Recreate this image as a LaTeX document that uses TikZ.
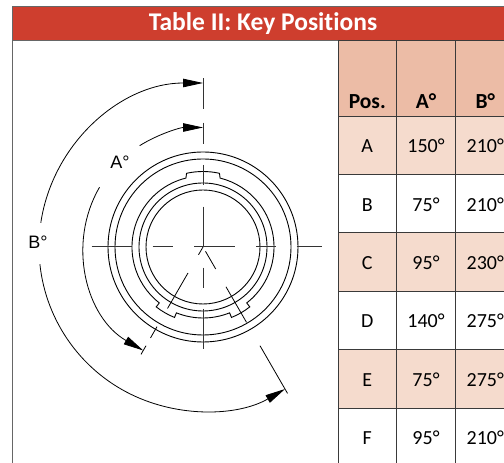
\documentclass[tikz,border=0pt]{standalone}
\usepackage{fontspec}
\setmainfont[Ligatures=NoCommon]{Carlito}
\newfontfamily\drawfont{Liberation Sans}
\usetikzlibrary{positioning,arrows.meta}
\definecolor{bannerred}{HTML}{CE3E2E}
\definecolor{headtan}{HTML}{ECBCA6}
\definecolor{rowpink}{HTML}{F5DBCD}
\definecolor{framegray}{HTML}{666666}
\definecolor{gridgray}{HTML}{3A3A3A}
\begin{document}
\begin{tikzpicture}[
  x = 1bp,
  y = 1bp,
  ringline/.style = {
    line width = 0.9bp,
    color = black
  },
  axisline/.style = {
    line width = 1bp,
    color = black!80
  },
  dimarrow/.style = {
    line width = 0.8bp,
    -{Triangle[length = 20bp, width = 8.5bp]}
  },
  dimline/.style = {
    line width = 0.8bp
  },
  dimlabel/.style = {
    font = \drawfont\fontsize{18bp}{20bp}\selectfont,
    inner sep = 0pt
  },
  headcell/.style = {
    draw = gridgray,
    line width = 0.9bp,
    fill = headtan,
    minimum height = 76bp,
    inner sep = 0pt
  },
  headlabel/.style = {
    font = \fontsize{21.5bp}{23bp}\selectfont\bfseries,
    inner sep = 0pt
  },
  rowcell/.style = {
    draw = gridgray,
    line width = 0.9bp,
    minimum height = 58.5bp,
    inner sep = 0pt,
    text height = 15bp,
    text depth = 0pt,
    font = \fontsize{20bp}{22bp}\selectfont
  }
]
  \clip[use as bounding box] (0, 0) rectangle (504, 463);
  \fill[white] (0, 0) rectangle (504, 463);

  % banner and frame
  \node[draw = framegray, line width = 1.2bp, fill = white, anchor = south west,
    minimum width = 600bp, minimum height = 460bp, inner sep = 0pt] (frame) at (11.7, -37) {};
  \node[draw = framegray, line width = 1.2bp, fill = bannerred, anchor = north west,
    minimum width = 600bp, minimum height = 34bp, inner sep = 0pt] (banner) at (11.7, 457) {};
  \node[font = \fontsize{25.5bp}{27bp}\selectfont\bfseries, text = white, inner sep = 0pt] (title) at (263, 439.5) {Table II: Key Positions};

  % table
  \node[headcell, minimum width = 58.5bp] (headPos) at (367.25, 385) {};
  \node[headcell, minimum width = 59bp] (headA) at (426, 385) {};
  \node[headcell, minimum width = 59.5bp] (headB) at (485.25, 385) {};
  \node[headlabel, above = 8bp of headPos.south] {Pos.};
  \node[headlabel, above = 8bp of headA.south] {A°};
  \node[headlabel, above = 8bp of headB.south] {B°};

  \foreach \rowname/\angleA/\angleB/\rowfill [count = \i from 0] in {
    A/150/210/rowpink,
    B/75/210/white,
    C/95/230/rowpink,
    D/140/275/white,
    E/75/275/rowpink,
    F/95/210/white%
  } {
    \node[rowcell, fill = \rowfill, minimum width = 58.5bp] (pos\i) at (367.25, {317.75 - 58.4*\i}) {\rowname};
    \node[rowcell, fill = \rowfill, minimum width = 59bp] (a\i) at (426, {317.75 - 58.4*\i}) {\angleA°};
    \node[rowcell, fill = \rowfill, minimum width = 59.5bp] (b\i) at (485.25, {317.75 - 58.4*\i}) {\angleB°};
  }

  % rings
  \begin{scope}[shift = {(203, 216)}]
    \draw[ringline] (0, 0) circle[radius = 95];
    \draw[ringline] (0, 0) circle[radius = 88];
    \draw[ringline] (0, 0) circle[radius = 64];
    \draw[ringline] (0, 0) circle[radius = 57];
    \draw[ringline] (76.1:71) -- (77.4:75.5)
      arc[start angle = 77.4, end angle = 102.6, radius = 75.5] -- (103.9:71)
      arc[start angle = 103.9, end angle = 232, radius = 71] -- (232:76)
      arc[start angle = 232, end angle = 248, radius = 76] -- (248:71)
      arc[start angle = 248, end angle = 292, radius = 71] -- (292:76)
      arc[start angle = 292, end angle = 308, radius = 76] -- (308:71)
      arc[start angle = 308, end angle = 436.1, radius = 71] -- cycle;

    % centre lines
    \draw[axisline] (-111.3, 0) -- (-71.3, 0);
    \draw[axisline] (-50.3, 0) -- (-29.7, 0);
    \draw[axisline] (-9, 0) -- (32, 0);
    \draw[axisline] (53, 0) -- (73, 0);
    \draw[axisline] (93.7, 0) -- (118.7, 0);
    \draw[axisline] (0, 168.7) -- (0, 137.7);
    \draw[axisline] (0, 124.3) -- (0, 103);
    \draw[axisline] (0, 82) -- (0, 62);
    \draw[axisline] (0, 40.3) -- (0, 0);
    \draw[axisline] (0, -20.7) -- (0, -41.3);
    \draw[axisline] (0, -62) -- (0, -102.3);

    % radial lines
    \draw[dimline] (240:0) -- (240:9);
    \draw[dimline] (240:30) -- (240:71);
    \draw[dimline] (240:92) -- (240:105);
    \draw[dimline] (240:114) -- (240:124);
    \draw[dimline] (300:5) -- (300:25.4);
    \draw[dimline] (300:46) -- (300:87);
    \draw[dimline] (300:114) -- (300:169);

    % dimension arcs
    \draw[dimarrow] (122:119.5) arc[start angle = 122, end angle = 90, radius = 119.5];
    \draw[dimarrow] (150:119.5) arc[start angle = 150, end angle = 240, radius = 119.5];
    \draw[dimarrow] (171.5:164) arc[start angle = 171.5, end angle = 90, radius = 164];
    \draw[dimarrow] (186:164) arc[start angle = 186, end angle = 300, radius = 164];
  \end{scope}

  \node[dimlabel] (labelA) at (120, 300.5) {A°};
  \node[dimlabel] (labelB) at (38, 221) {B°};
\end{tikzpicture}
\end{document}
